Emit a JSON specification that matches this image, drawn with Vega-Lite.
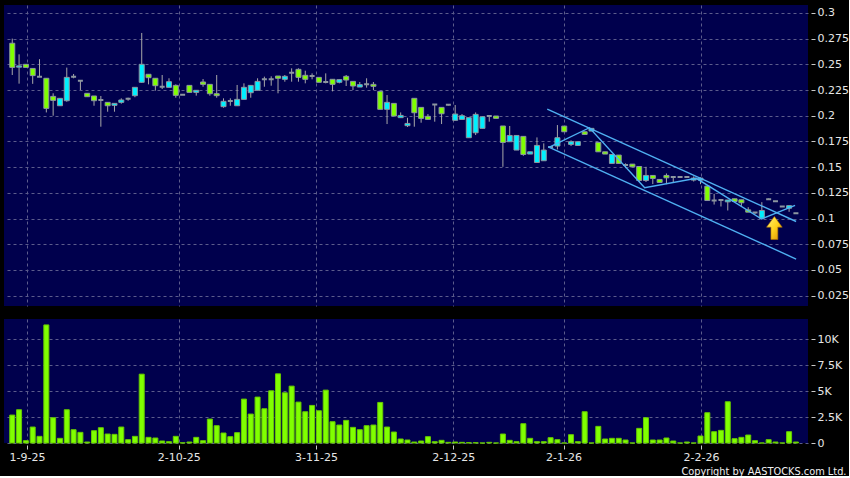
{
  "$schema": "https://vega.github.io/schema/vega-lite/v6.json",
  "background": "#000000",
  "padding": {"left": 4, "top": 5, "right": 0, "bottom": 0},
  "spacing": 13,
  "datasets": {
    "candles": [
      {"i":1,"o":0.2705,"h":0.275,"l":0.2396,"c":0.247},
      {"i":2,"o":0.2472,"h":0.2597,"l":0.2312,"c":0.2485},
      {"i":3,"o":0.25,"h":0.25,"l":0.247,"c":0.247},
      {"i":4,"o":0.246,"h":0.246,"l":0.231,"c":0.239},
      {"i":5,"o":0.238,"h":0.255,"l":0.238,"c":0.238},
      {"i":6,"o":0.2364,"h":0.2364,"l":0.2032,"c":0.2071},
      {"i":7,"o":0.2188,"h":0.2218,"l":0.2,"c":0.2149},
      {"i":8,"o":0.2097,"h":0.2169,"l":0.2097,"c":0.2169},
      {"i":9,"o":0.2146,"h":0.2468,"l":0.2136,"c":0.2373},
      {"i":10,"o":0.238,"h":0.2406,"l":0.2364,"c":0.238},
      {"i":11,"o":0.2341,"h":0.2341,"l":0.225,"c":0.2341},
      {"i":12,"o":0.2218,"h":0.2218,"l":0.2185,"c":0.2185},
      {"i":13,"o":0.2192,"h":0.2192,"l":0.2097,"c":0.2146},
      {"i":14,"o":0.2153,"h":0.2192,"l":0.1893,"c":0.2153},
      {"i":15,"o":0.213,"h":0.213,"l":0.2039,"c":0.2097},
      {"i":16,"o":0.2101,"h":0.212,"l":0.2039,"c":0.212},
      {"i":17,"o":0.213,"h":0.2169,"l":0.2117,"c":0.2153},
      {"i":18,"o":0.2166,"h":0.2175,"l":0.2146,"c":0.2166},
      {"i":19,"o":0.2195,"h":0.2276,"l":0.218,"c":0.2276},
      {"i":20,"o":0.2325,"h":0.2805,"l":0.232,"c":0.25},
      {"i":21,"o":0.2403,"h":0.2403,"l":0.2305,"c":0.237},
      {"i":22,"o":0.2364,"h":0.2364,"l":0.2244,"c":0.2292},
      {"i":23,"o":0.2282,"h":0.2396,"l":0.226,"c":0.2282},
      {"i":24,"o":0.2276,"h":0.2364,"l":0.2276,"c":0.2331},
      {"i":25,"o":0.2295,"h":0.2305,"l":0.2175,"c":0.2198},
      {"i":26,"o":0.2205,"h":0.2205,"l":0.2205,"c":0.2205},
      {"i":27,"o":0.2295,"h":0.2295,"l":0.2227,"c":0.2227},
      {"i":28,"o":0.2227,"h":0.2247,"l":0.2195,"c":0.2247},
      {"i":29,"o":0.2328,"h":0.2357,"l":0.2282,"c":0.2305},
      {"i":30,"o":0.2305,"h":0.2305,"l":0.2195,"c":0.2214},
      {"i":31,"o":0.2214,"h":0.2396,"l":0.2175,"c":0.2195},
      {"i":32,"o":0.2088,"h":0.2169,"l":0.2078,"c":0.214},
      {"i":33,"o":0.2143,"h":0.2169,"l":0.2097,"c":0.2143},
      {"i":34,"o":0.2097,"h":0.2299,"l":0.2097,"c":0.2159},
      {"i":35,"o":0.2159,"h":0.2315,"l":0.2159,"c":0.2276},
      {"i":36,"o":0.2224,"h":0.2295,"l":0.2175,"c":0.2295},
      {"i":37,"o":0.2247,"h":0.2364,"l":0.2247,"c":0.2334},
      {"i":38,"o":0.2354,"h":0.238,"l":0.2282,"c":0.2354},
      {"i":39,"o":0.2354,"h":0.2383,"l":0.2292,"c":0.2354},
      {"i":40,"o":0.2386,"h":0.2386,"l":0.2218,"c":0.2364},
      {"i":41,"o":0.2354,"h":0.2396,"l":0.2331,"c":0.2383},
      {"i":42,"o":0.2419,"h":0.2461,"l":0.2331,"c":0.2419},
      {"i":43,"o":0.2451,"h":0.2461,"l":0.2331,"c":0.2373},
      {"i":44,"o":0.2393,"h":0.2438,"l":0.2315,"c":0.2354},
      {"i":45,"o":0.2386,"h":0.2412,"l":0.2354,"c":0.2386},
      {"i":46,"o":0.2373,"h":0.2373,"l":0.2325,"c":0.2325},
      {"i":47,"o":0.2328,"h":0.2412,"l":0.2315,"c":0.2328},
      {"i":48,"o":0.2354,"h":0.2354,"l":0.2237,"c":0.2305},
      {"i":49,"o":0.2325,"h":0.2354,"l":0.2315,"c":0.2351},
      {"i":50,"o":0.2383,"h":0.2396,"l":0.2289,"c":0.2347},
      {"i":51,"o":0.2334,"h":0.2334,"l":0.225,"c":0.2289},
      {"i":52,"o":0.2279,"h":0.2328,"l":0.2279,"c":0.2302},
      {"i":53,"o":0.2305,"h":0.2364,"l":0.2273,"c":0.2305},
      {"i":54,"o":0.2305,"h":0.2328,"l":0.225,"c":0.2286},
      {"i":55,"o":0.2237,"h":0.2237,"l":0.2062,"c":0.2062},
      {"i":56,"o":0.2062,"h":0.2201,"l":0.1919,"c":0.213},
      {"i":57,"o":0.212,"h":0.212,"l":0.1997,"c":0.1997},
      {"i":58,"o":0.1981,"h":0.2032,"l":0.1981,"c":0.2003},
      {"i":59,"o":0.1903,"h":0.198,"l":0.189,"c":0.1925},
      {"i":60,"o":0.2169,"h":0.2169,"l":0.1893,"c":0.2029},
      {"i":61,"o":0.2081,"h":0.2081,"l":0.1932,"c":0.1974},
      {"i":62,"o":0.1994,"h":0.2016,"l":0.1964,"c":0.1964},
      {"i":63,"o":0.211,"h":0.211,"l":0.1942,"c":0.211},
      {"i":64,"o":0.2081,"h":0.2081,"l":0.1919,"c":0.2019},
      {"i":65,"o":0.2107,"h":0.2113,"l":0.21,"c":0.2107},
      {"i":66,"o":0.1955,"h":0.2104,"l":0.1955,"c":0.2016},
      {"i":67,"o":0.1964,"h":0.2016,"l":0.1964,"c":0.2},
      {"i":68,"o":0.1786,"h":0.1981,"l":0.1786,"c":0.1981},
      {"i":69,"o":0.1834,"h":0.2032,"l":0.1812,"c":0.2013},
      {"i":70,"o":0.1877,"h":0.199,"l":0.1877,"c":0.199},
      {"i":71,"o":0.1997,"h":0.1997,"l":0.1942,"c":0.1997},
      {"i":72,"o":0.1997,"h":0.1997,"l":0.1974,"c":0.1974},
      {"i":73,"o":0.19,"h":0.19,"l":0.1503,"c":0.174},
      {"i":74,"o":0.1747,"h":0.19,"l":0.1747,"c":0.1808},
      {"i":75,"o":0.1666,"h":0.1808,"l":0.1666,"c":0.1808},
      {"i":76,"o":0.1799,"h":0.1799,"l":0.161,"c":0.1623},
      {"i":77,"o":0.1627,"h":0.1649,"l":0.1627,"c":0.1649},
      {"i":78,"o":0.1545,"h":0.1789,"l":0.1545,"c":0.1711},
      {"i":79,"o":0.1562,"h":0.1731,"l":0.1562,"c":0.1666},
      {"i":80,"o":0.1695,"h":0.1705,"l":0.1685,"c":0.1695},
      {"i":81,"o":0.1705,"h":0.1909,"l":0.1672,"c":0.1786},
      {"i":82,"o":0.1899,"h":0.1899,"l":0.1844,"c":0.1844},
      {"i":83,"o":0.1721,"h":0.176,"l":0.1705,"c":0.1747},
      {"i":84,"o":0.1711,"h":0.1747,"l":0.1711,"c":0.1747},
      {"i":85,"o":0.1844,"h":0.1844,"l":0.1818,"c":0.1818},
      {"i":86,"o":0.1851,"h":0.1877,"l":0.1851,"c":0.1877},
      {"i":87,"o":0.174,"h":0.174,"l":0.1649,"c":0.1649},
      {"i":88,"o":0.1649,"h":0.1649,"l":0.1627,"c":0.1627},
      {"i":89,"o":0.1536,"h":0.1623,"l":0.1536,"c":0.1623},
      {"i":90,"o":0.1617,"h":0.1617,"l":0.1536,"c":0.1536},
      {"i":91,"o":0.152,"h":0.1536,"l":0.149,"c":0.152},
      {"i":92,"o":0.1529,"h":0.1529,"l":0.1503,"c":0.1503},
      {"i":93,"o":0.1506,"h":0.1506,"l":0.1355,"c":0.137},
      {"i":94,"o":0.137,"h":0.1503,"l":0.1355,"c":0.1419},
      {"i":95,"o":0.1419,"h":0.1419,"l":0.1335,"c":0.139},
      {"i":96,"o":0.138,"h":0.138,"l":0.1351,"c":0.1351},
      {"i":97,"o":0.1419,"h":0.1438,"l":0.1334,"c":0.1396},
      {"i":98,"o":0.1403,"h":0.1403,"l":0.135,"c":0.1403},
      {"i":99,"o":0.1403,"h":0.1403,"l":0.1403,"c":0.1403},
      {"i":100,"o":0.1403,"h":0.1403,"l":0.1403,"c":0.1403},
      {"i":101,"o":0.1374,"h":0.141,"l":0.136,"c":0.1393},
      {"i":102,"o":0.1374,"h":0.14,"l":0.1334,"c":0.1393},
      {"i":103,"o":0.1315,"h":0.1315,"l":0.1175,"c":0.1175},
      {"i":104,"o":0.1175,"h":0.124,"l":0.1136,"c":0.1175},
      {"i":105,"o":0.118,"h":0.119,"l":0.1117,"c":0.118},
      {"i":106,"o":0.1162,"h":0.118,"l":0.1078,"c":0.118},
      {"i":107,"o":0.1192,"h":0.1192,"l":0.1166,"c":0.1166},
      {"i":108,"o":0.1182,"h":0.1182,"l":0.1123,"c":0.1153},
      {"i":109,"o":0.1084,"h":0.111,"l":0.1062,"c":0.1062},
      {"i":110,"o":0.1058,"h":0.1058,"l":0.1045,"c":0.1058},
      {"i":111,"o":0.1003,"h":0.1159,"l":0.1003,"c":0.1078},
      {"i":112,"o":0.1188,"h":0.1195,"l":0.1182,"c":0.1188},
      {"i":113,"o":0.1169,"h":0.1169,"l":0.1169,"c":0.1169},
      {"i":114,"o":0.1117,"h":0.1117,"l":0.1117,"c":0.1117},
      {"i":115,"o":0.11,"h":0.1125,"l":0.1065,"c":0.1125},
      {"i":116,"o":0.1052,"h":0.1052,"l":0.1052,"c":0.1052}
    ],
    "volume": [
      {"i":1,"v":2692},{"i":2,"v":3205},{"i":3,"v":224},{"i":4,"v":1538},{"i":5,"v":641},
      {"i":6,"v":11378},{"i":7,"v":2436},{"i":8,"v":449},{"i":9,"v":3205},{"i":10,"v":1282},
      {"i":11,"v":1026},{"i":12,"v":96},{"i":13,"v":1186},{"i":14,"v":1474},{"i":15,"v":865},
      {"i":16,"v":833},{"i":17,"v":1538},{"i":18,"v":320},{"i":19,"v":641},{"i":20,"v":6634},
      {"i":21,"v":545},{"i":22,"v":481},{"i":23,"v":192},{"i":24,"v":128},{"i":25,"v":641},
      {"i":26,"v":20},{"i":27,"v":96},{"i":28,"v":545},{"i":29,"v":224},{"i":30,"v":2308},
      {"i":31,"v":1667},{"i":32,"v":962},{"i":33,"v":609},{"i":34,"v":994},{"i":35,"v":4231},
      {"i":36,"v":2788},{"i":37,"v":4423},{"i":38,"v":3301},{"i":39,"v":5032},{"i":40,"v":6666},
      {"i":41,"v":4840},{"i":42,"v":5481},{"i":43,"v":3942},{"i":44,"v":3013},{"i":45,"v":3622},
      {"i":46,"v":3109},{"i":47,"v":5096},{"i":48,"v":2051},{"i":49,"v":1731},{"i":50,"v":2179},
      {"i":51,"v":1506},{"i":52,"v":1282},{"i":53,"v":1667},{"i":54,"v":1731},{"i":55,"v":3910},
      {"i":56,"v":1538},{"i":57,"v":1058},{"i":58,"v":385},{"i":59,"v":288},{"i":60,"v":96},
      {"i":61,"v":192},{"i":62,"v":609},{"i":63,"v":128},{"i":64,"v":256},{"i":65,"v":64},
      {"i":66,"v":96},{"i":67,"v":64},{"i":68,"v":32},{"i":69,"v":32},{"i":70,"v":0},
      {"i":71,"v":64},{"i":72,"v":0},{"i":73,"v":865},{"i":74,"v":256},{"i":75,"v":128},
      {"i":76,"v":1859},{"i":77,"v":449},{"i":78,"v":128},{"i":79,"v":128},{"i":80,"v":513},
      {"i":81,"v":320},{"i":82,"v":0},{"i":83,"v":801},{"i":84,"v":128},{"i":85,"v":3013},
      {"i":86,"v":0},{"i":87,"v":1603},{"i":88,"v":385},{"i":89,"v":449},{"i":90,"v":449},
      {"i":91,"v":288},{"i":92,"v":0},{"i":93,"v":1410},{"i":94,"v":2436},{"i":95,"v":288},
      {"i":96,"v":288},{"i":97,"v":481},{"i":98,"v":192},{"i":99,"v":0},{"i":100,"v":96},
      {"i":101,"v":0},{"i":102,"v":673},{"i":103,"v":2917},{"i":104,"v":1090},{"i":105,"v":1218},
      {"i":106,"v":3974},{"i":107,"v":417},{"i":108,"v":545},{"i":109,"v":769},{"i":110,"v":224},
      {"i":111,"v":0},{"i":112,"v":320},{"i":113,"v":96},{"i":114,"v":0},{"i":115,"v":1090},
      {"i":116,"v":96}
    ],
    "lines": [
      {"s":"upper","n":1,"i":79.51,"p":0.2065},
      {"s":"upper","n":2,"i":116.03,"p":0.0971},
      {"s":"lower","n":1,"i":79.65,"p":0.1696},
      {"s":"lower","n":2,"i":116.03,"p":0.0606},
      {"s":"zig","n":1,"i":79.75,"p":0.1693},
      {"s":"zig","n":2,"i":85.7,"p":0.1883},
      {"s":"zig","n":3,"i":93.81,"p":0.13},
      {"s":"zig","n":4,"i":101.39,"p":0.1391},
      {"s":"zig","n":5,"i":110.96,"p":0.0995},
      {"s":"zig","n":6,"i":115.88,"p":0.1128}
    ],
    "arrow": [{"i":112.84,"p":0.0908}]
  },
  "vconcat": [
    {
      "width": 804,
      "height": 301,
      "layer": [
        {
          "data": {"name": "candles"},
          "mark": {"type": "rule", "color": "#a8a8a8", "strokeWidth": 1, "clip": true},
          "encoding": {
            "x": {"field": "i", "type": "quantitative",
              "scale": {"domain": [0.522, 117.04], "nice": false, "zero": false},
              "axis": {"values": [3.17, 25.42, 45.57, 65.71, 81.9, 102.07], "tickCount": 30, "labels": false, "ticks": false, "domain": false, "grid": true, "title": null}},
            "y": {"field": "l", "type": "quantitative",
              "scale": {"domain": [0.0149, 0.3077], "nice": false, "zero": false},
              "axis": {"orient": "right", "values": [0.025, 0.05, 0.075, 0.1, 0.125, 0.15, 0.175, 0.2, 0.225, 0.25, 0.275, 0.3],
                "tickCount": 30,
                "labelExpr": "format(datum.value, '.3~f')", "labelOverlap": false,
                "title": null, "offset": 3, "tickSize": 4, "labelPadding": 2}},
            "y2": {"field": "h"}
          }
        },
        {
          "data": {"name": "candles"},
          "mark": {"type": "bar", "size": 5, "stroke": "#8c96a0", "clip": true},
          "encoding": {
            "x": {"field": "i", "type": "quantitative"},
            "y": {"field": "o", "type": "quantitative"},
            "y2": {"field": "c"},
            "fill": {
              "condition": [
                {"test": "datum.c > datum.o", "value": "#00f0ff"},
                {"test": "datum.c < datum.o", "value": "#80ff00"}
              ],
              "value": "#a0a0a0"
            },
            "strokeWidth": {
              "condition": {"test": "datum.c == datum.o", "value": 2},
              "value": 1
            }
          }
        },
        {
          "data": {"name": "lines"},
          "mark": {"type": "line", "stroke": "#4fb0f2", "strokeWidth": 1.4, "clip": true},
          "encoding": {
            "x": {"field": "i", "type": "quantitative"},
            "y": {"field": "p", "type": "quantitative"},
            "detail": {"field": "s"},
            "order": {"field": "n", "type": "quantitative"}
          }
        },
        {
          "data": {"name": "arrow"},
          "mark": {
            "type": "point",
            "shape": "M0,-1L0.68,-0.07L0.3,-0.07L0.3,1L-0.3,1L-0.3,-0.07L-0.68,-0.07Z",
            "filled": true,
            "size": 529,
            "opacity": 1,
            "fill": {"gradient": "linear", "x1": 0, "y1": 0, "x2": 1, "y2": 1,
              "stops": [{"offset": 0, "color": "#fff27a"}, {"offset": 0.5, "color": "#ffd21e"}, {"offset": 1, "color": "#d98a00"}]},
            "stroke": "#b07000",
            "strokeWidth": 0.6
          },
          "encoding": {
            "x": {"field": "i", "type": "quantitative"},
            "y": {"field": "p", "type": "quantitative"}
          }
        }
      ]
    },
    {
      "width": 804,
      "height": 124,
      "data": {"name": "volume"},
      "mark": {"type": "bar", "size": 5, "fill": "#80ff00", "stroke": "#66c800", "strokeWidth": 1},
      "encoding": {
        "x": {"field": "i", "type": "quantitative",
          "scale": {"domain": [0.522, 117.04], "nice": false, "zero": false},
          "axis": {
            "values": [3.17, 25.42, 45.57, 65.71, 81.9, 102.07],
            "tickCount": 30,
            "labelExpr": "datum.value < 10 ? '1-9-25' : datum.value < 30 ? '2-10-25' : datum.value < 50 ? '3-11-25' : datum.value < 70 ? '2-12-25' : datum.value < 90 ? '2-1-26' : '2-2-26'",
            "grid": true, "ticks": true, "tickSize": 4, "offset": 2, "labelPadding": 2,
            "labelOverlap": false, "labelFlush": false,
            "title": "Copyright by AASTOCKS.com Ltd.",
            "titleX": 842, "titleY": 26, "titleAlign": "right", "titleBaseline": "middle",
            "titleFont": "DejaVu Sans", "titleFontSize": 9.8, "titleFontWeight": "normal", "titleColor": "#f0f0f0"
          }},
        "y": {"field": "v", "type": "quantitative",
          "scale": {"domain": [0, 11950], "nice": false},
          "axis": {"orient": "right", "values": [0, 2500, 5000, 7500, 10000],
            "tickCount": 30,
            "labelExpr": "datum.value == 0 ? '0' : format(datum.value / 1000, '~g') + 'K'",
            "labelOverlap": false,
            "title": null, "offset": 3, "tickSize": 4, "labelPadding": 2}}
      }
    }
  ],
  "config": {
    "view": {"fill": "#00004d", "stroke": null},
    "axis": {
      "domain": false,
      "gridColor": "#5c5c8c",
      "gridDash": [3, 3],
      "gridWidth": 1,
      "tickColor": "#c8c8c8",
      "labelColor": "#e6e6e6",
      "labelFont": "DejaVu Sans",
      "labelFontSize": 11
    }
  }
}
